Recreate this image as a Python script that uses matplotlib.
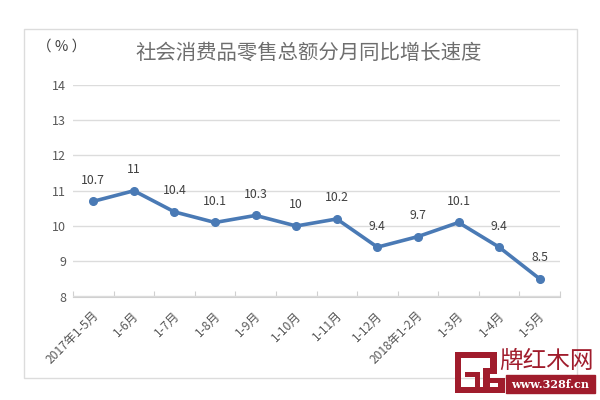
import matplotlib
matplotlib.use('Agg')
import matplotlib.pyplot as plt
from matplotlib.patches import Rectangle

plt.rcParams['font.family'] = ['Noto Sans CJK SC', 'DejaVu Sans']

months = ['2017年1-5月', '1-6月', '1-7月', '1-8月', '1-9月', '1-10月', '1-11月',
          '1-12月', '2018年1-2月', '1-3月', '1-4月', '1-5月']
growth = [10.7, 11, 10.4, 10.1, 10.3, 10, 10.2, 9.4, 9.7, 10.1, 9.4, 8.5]
growth_labels = ['10.7', '11', '10.4', '10.1', '10.3', '10', '10.2', '9.4', '9.7', '10.1', '9.4', '8.5']
yticks = [8, 9, 10, 11, 12, 13, 14]
title = '社会消费品零售总额分月同比增长速度'

W, H = 600, 400
fig = plt.figure(figsize=(W / 100, H / 100), dpi=100)

# outer chart frame, in pixel coordinates
bg = fig.add_axes([0, 0, 1, 1])
bg.set_xlim(0, W)
bg.set_ylim(H, 0)
bg.axis('off')
bg.add_patch(Rectangle((23.5, 29), 553, 349, fill=False, ec='#dcdcdc', lw=1))

ax = fig.add_axes([73 / W, 1 - 296.5 / H, 487 / W, 211.5 / H])
ax.patch.set_alpha(0)
x = list(range(len(months)))
ax.set_xlim(-0.5, len(months) - 0.5)
ax.set_ylim(8, 14)
ax.grid(axis='y', color='#dcdcdc', lw=1)
ax.set_axisbelow(True)
for s in ['top', 'left', 'right']:
    ax.spines[s].set_visible(False)
ax.spines['bottom'].set_color('#d0d0d0')

ax.plot(x, growth, color='#4a7ab5', lw=2.6, marker='o', ms=5.5, clip_on=False)
for i, v in enumerate(growth):
    ax.annotate(growth_labels[i], (i, v), xytext=(0, 10.5), textcoords='offset points',
                ha='center', va='bottom', fontsize=8.8, color='#404040')

ax.set_yticks(yticks)
ax.tick_params(axis='y', length=0, labelsize=9, labelcolor='#595959', pad=5)

# ticks sit between categories and point up into the plot
ax.set_xticks([i - 0.5 for i in x] + [len(months) - 0.5])
ax.tick_params(axis='x', which='major', direction='in', length=4, color='#d0d0d0', labelbottom=False)
for i, m in enumerate(months):
    ax.annotate(m, (i, 8), xytext=(-1, -9), textcoords='offset points', rotation=45,
                rotation_mode='anchor', ha='right', va='top', fontsize=8.7, color='#595959',
                annotation_clip=False)

bg.text(62, 47, '（ % ）', fontsize=10.5, color='#404040', ha='center', va='center')
bg.text(309, 53, title, fontsize=14.7, color='#6e6e6e', ha='center', va='center')

# site watermark, bottom right
red = '#a01c2c'
logo_bars = [(455, 352, 40, 6), (455, 352, 6, 41), (455, 387, 50, 6), (465, 372, 15, 5),
             (475, 372, 5, 15), (490, 352, 7, 20), (483, 368, 14, 6), (483, 368, 7, 22),
             (483, 378, 22, 5), (498, 378, 7, 15)]
for bar in logo_bars:
    bg.add_patch(Rectangle(bar[:2], bar[2], bar[3], color=red, lw=0, zorder=5))
bg.add_patch(Rectangle((506, 375), 89, 18, color=red, zorder=5))
bg.text(550.5, 384, 'www.328f.cn', fontsize=8, color='white', weight='bold',
        family='DejaVu Serif', ha='center', va='center', zorder=6)
bg.text(546, 361, '牌红木网', fontsize=17, color=red, ha='center', va='center', zorder=6)

fig.savefig('out.png', dpi=100)
